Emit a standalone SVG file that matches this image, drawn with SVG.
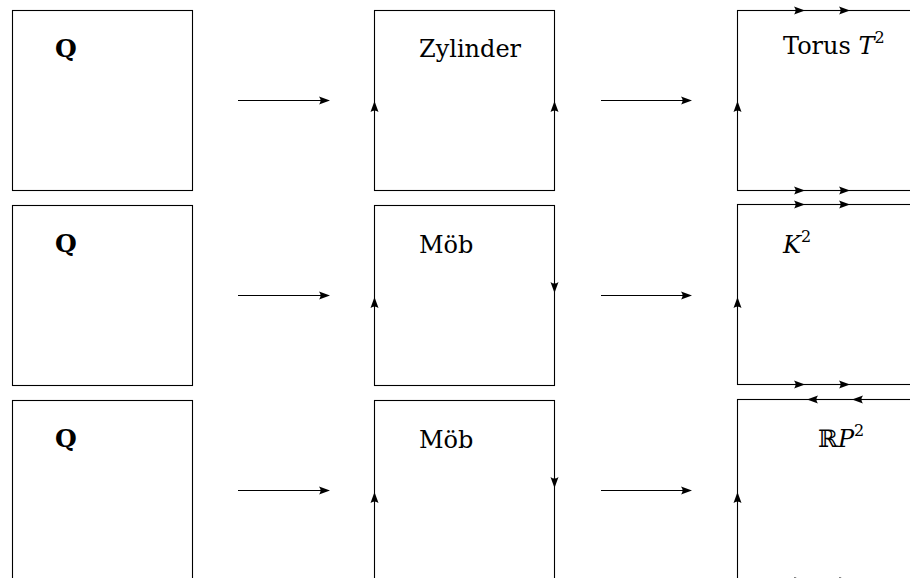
<svg xmlns="http://www.w3.org/2000/svg" xmlns:xlink="http://www.w3.org/1999/xlink" width="910" height="578" viewBox="0 0 910 578">
  <style>
    .edge { fill: none; stroke: #000; stroke-width: 1.1; }
    .lbl { font-family: "DejaVu Serif", "Liberation Serif", serif; font-size: 24px; fill: #000; }
    .bold { font-weight: bold; font-size: 25px; }
    .it { font-style: italic; }
    .sup { font-size: 16px; }
  </style>
  <defs>
    <path id="ah" d="M0,0 L-11,-4 Q-8,0 -11,4 Z" fill="#000"/>
  </defs>
  <rect width="910" height="578" fill="#fff"/>

  <!-- column 1 -->
  <g id="q1">
    <rect class="edge" x="12.5" y="10.5" width="180" height="180"/>
    <text class="lbl bold" x="55" y="57">Q</text>
  </g>
  <g id="q2">
    <rect class="edge" x="12.5" y="205.5" width="180" height="180"/>
    <text class="lbl bold" x="55" y="252">Q</text>
  </g>
  <g id="q3">
    <rect class="edge" x="12.5" y="400.5" width="180" height="180"/>
    <text class="lbl bold" x="55" y="447">Q</text>
  </g>

  <!-- column 2 -->
  <g id="zylinder">
    <rect class="edge" x="374.5" y="10.5" width="180" height="180"/>
    <use xlink:href="#ah" transform="translate(374.5,101) rotate(-90)"/>
    <use xlink:href="#ah" transform="translate(554.5,101) rotate(-90)"/>
    <text class="lbl" x="419" y="57">Zylinder</text>
  </g>
  <g id="moeb1">
    <rect class="edge" x="374.5" y="205.5" width="180" height="180"/>
    <use xlink:href="#ah" transform="translate(374.5,297) rotate(-90)"/>
    <use xlink:href="#ah" transform="translate(554.5,293) rotate(90)"/>
    <text class="lbl" x="419" y="253">Möb</text>
  </g>
  <g id="moeb2">
    <rect class="edge" x="374.5" y="400.5" width="180" height="180"/>
    <use xlink:href="#ah" transform="translate(374.5,492) rotate(-90)"/>
    <use xlink:href="#ah" transform="translate(554.5,488) rotate(90)"/>
    <text class="lbl" x="419" y="448">Möb</text>
  </g>

  <!-- column 3 -->
  <g id="torus">
    <rect class="edge" x="737.5" y="10.5" width="180" height="180"/>
    <use xlink:href="#ah" transform="translate(805,10.5)"/>
    <use xlink:href="#ah" transform="translate(850,10.5)"/>
    <use xlink:href="#ah" transform="translate(805,190.5)"/>
    <use xlink:href="#ah" transform="translate(850,190.5)"/>
    <use xlink:href="#ah" transform="translate(737.5,101) rotate(-90)"/>
    <text class="lbl" x="783" y="54">Torus <tspan class="it">T</tspan><tspan class="sup" dy="-11">2</tspan></text>
  </g>
  <g id="klein">
    <rect class="edge" x="737.5" y="204.5" width="180" height="180"/>
    <use xlink:href="#ah" transform="translate(805,204.5)"/>
    <use xlink:href="#ah" transform="translate(850,204.5)"/>
    <use xlink:href="#ah" transform="translate(805,384.5)"/>
    <use xlink:href="#ah" transform="translate(850,384.5)"/>
    <use xlink:href="#ah" transform="translate(737.5,297) rotate(-90)"/>
    <text class="lbl it" x="783" y="253">K<tspan class="sup" dy="-11" style="font-style:normal">2</tspan></text>
  </g>
  <g id="rp2">
    <rect class="edge" x="737.5" y="399.5" width="180" height="181"/>
    <use xlink:href="#ah" transform="translate(807,399.5) rotate(180)"/>
    <use xlink:href="#ah" transform="translate(852,399.5) rotate(180)"/>
    <use xlink:href="#ah" transform="translate(805,581)"/>
    <use xlink:href="#ah" transform="translate(850,581)"/>
    <use xlink:href="#ah" transform="translate(737.5,492) rotate(-90)"/>
    <text class="lbl" x="818" y="447">ℝ<tspan class="it">P</tspan><tspan class="sup" dy="-11">2</tspan></text>
  </g>

  <!-- connectors -->
  <g id="connectors">
    <line class="edge" x1="238" y1="100.5" x2="322" y2="100.5"/>
    <use xlink:href="#ah" transform="translate(330,100.5)"/>
    <line class="edge" x1="601" y1="100.5" x2="684" y2="100.5"/>
    <use xlink:href="#ah" transform="translate(692,100.5)"/>
    <line class="edge" x1="238" y1="295.5" x2="322" y2="295.5"/>
    <use xlink:href="#ah" transform="translate(330,295.5)"/>
    <line class="edge" x1="601" y1="295.5" x2="684" y2="295.5"/>
    <use xlink:href="#ah" transform="translate(692,295.5)"/>
    <line class="edge" x1="238" y1="490.5" x2="322" y2="490.5"/>
    <use xlink:href="#ah" transform="translate(330,490.5)"/>
    <line class="edge" x1="601" y1="490.5" x2="684" y2="490.5"/>
    <use xlink:href="#ah" transform="translate(692,490.5)"/>
  </g>
</svg>
